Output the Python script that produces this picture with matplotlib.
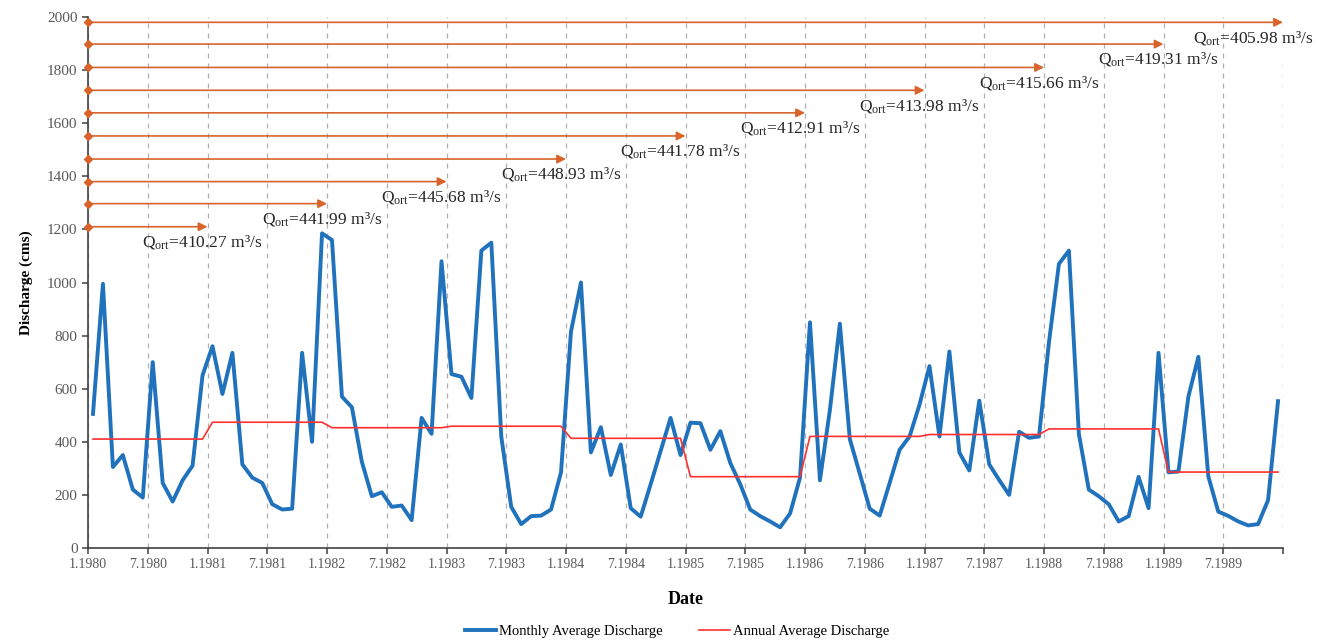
import matplotlib
matplotlib.use('Agg')
import matplotlib.pyplot as plt
import numpy as np

plt.rcParams['font.family'] = ['Liberation Serif', 'DejaVu Serif']
plt.rcParams['mathtext.fontset'] = 'custom'
plt.rcParams['mathtext.rm'] = 'Liberation Serif'
plt.rcParams['mathtext.it'] = 'Liberation Serif:italic'
plt.rcParams['mathtext.bf'] = 'Liberation Serif:bold'

years = list(range(1980, 1990))

# monthly average discharge, Jan 1980 .. Dec 1989
monthly = [
    505, 995, 305, 350, 220, 190, 700, 245, 175, 255, 310, 650,      # 1980
    760, 580, 735, 315, 265, 245, 165, 145, 148, 735, 400, 1185,     # 1981
    1160, 570, 530, 325, 195, 210, 155, 160, 105, 490, 430, 1080,    # 1982
    655, 645, 565, 1120, 1150, 420, 155, 90, 120, 122, 145, 285,     # 1983
    815, 1000, 360, 455, 275, 390, 150, 118, 240, 365, 490, 350,     # 1984
    472, 470, 370, 440, 320, 240, 145, 120, 100, 78, 130, 265,       # 1985
    850, 255, 520, 845, 410, 280, 148, 122, 245, 370, 420, 540,      # 1986
    685, 420, 740, 360, 292, 555, 315, 256, 200, 438, 415, 420,      # 1987
    775, 1070, 1120, 430, 220, 195, 165, 100, 120, 268, 150, 735,    # 1988
    285, 288, 570, 720, 270, 137, 121, 100, 85, 90, 180, 553,        # 1989
]

# annual average discharge
annual = [410.27, 473.71, 453.06, 458.68, 413.18, 268.56, 420.40, 427.42, 448.51, 286.01]

# cumulative mean labels and the height of their arrows
q_ort = [410.27, 441.99, 445.68, 448.93, 441.78, 412.91, 413.98, 415.66, 419.31, 405.98]
arrow_y = [1210, 1297, 1380, 1465, 1552, 1639, 1724, 1810, 1898, 1980]

tick_labels = [f'{m}.{y}' for y in years for m in (1, 7)]

blue = '#1f72bb'
red = '#ff3030'
orange = '#d8642c'

fig = plt.figure(figsize=(13.2, 6.4), dpi=100)
ax = fig.add_axes([88 / 1320, 92 / 640, 1195 / 1320, 531 / 640])

x = np.arange(len(monthly)) + 0.5
ax.plot(x, monthly, color=blue, lw=2.8, label='Monthly Average Discharge', zorder=3)
ax.plot(x, np.repeat(annual, 12), color=red, lw=1.2, label='Annual Average Discharge', zorder=4)

# arrows marking the cumulative averaging periods
for k, (q, y) in enumerate(zip(q_ort, arrow_y), start=1):
    ax.annotate('', xy=(12 * k, y), xytext=(0, y),
                arrowprops=dict(arrowstyle='-|>', color=orange, lw=1.2,
                                mutation_scale=13, shrinkA=0, shrinkB=0),
                annotation_clip=False, zorder=5)
    ax.plot(0, y, marker='D', ms=4.5, color=orange, clip_on=False, zorder=6)
    ax.text(min(12 * k - 0.5, 117), y - 58, r'Q$_{\mathrm{ort}}$=' + f'{q:.2f} m³/s',
            ha='center', va='center', fontsize=12.5, color='#262626', zorder=6)

ax.set_xlim(0, 120)
ax.set_ylim(0, 2000)
ax.set_xticks(np.arange(0, 121, 6))
ax.set_xticklabels(tick_labels + [''])
ax.set_yticks(np.arange(0, 2001, 200))

ax.grid(axis='x', color='#b0b0b0', ls=(0, (4, 4)), lw=0.9)
ax.set_axisbelow(True)

for side in ('top', 'right'):
    ax.spines[side].set_visible(False)
for side in ('left', 'bottom'):
    ax.spines[side].set_color('#404040')
    ax.spines[side].set_linewidth(1.2)
ax.tick_params(axis='both', colors='#404040', labelcolor='#595959',
               length=4, width=1.1, direction='out')
ax.tick_params(axis='x', labelsize=10)
ax.tick_params(axis='y', labelsize=11)

ax.set_xlabel('Date', fontsize=13, fontweight='bold', labelpad=14)
ax.set_ylabel('Discharge (cms)', fontsize=11, fontweight='bold', labelpad=10)

fig.legend(loc='lower center', bbox_to_anchor=(0.513, -0.018), ncol=2, frameon=False,
           fontsize=10.5, handlelength=2.1, columnspacing=2.5, handletextpad=0.2)

fig.savefig('out.png', dpi=100)
